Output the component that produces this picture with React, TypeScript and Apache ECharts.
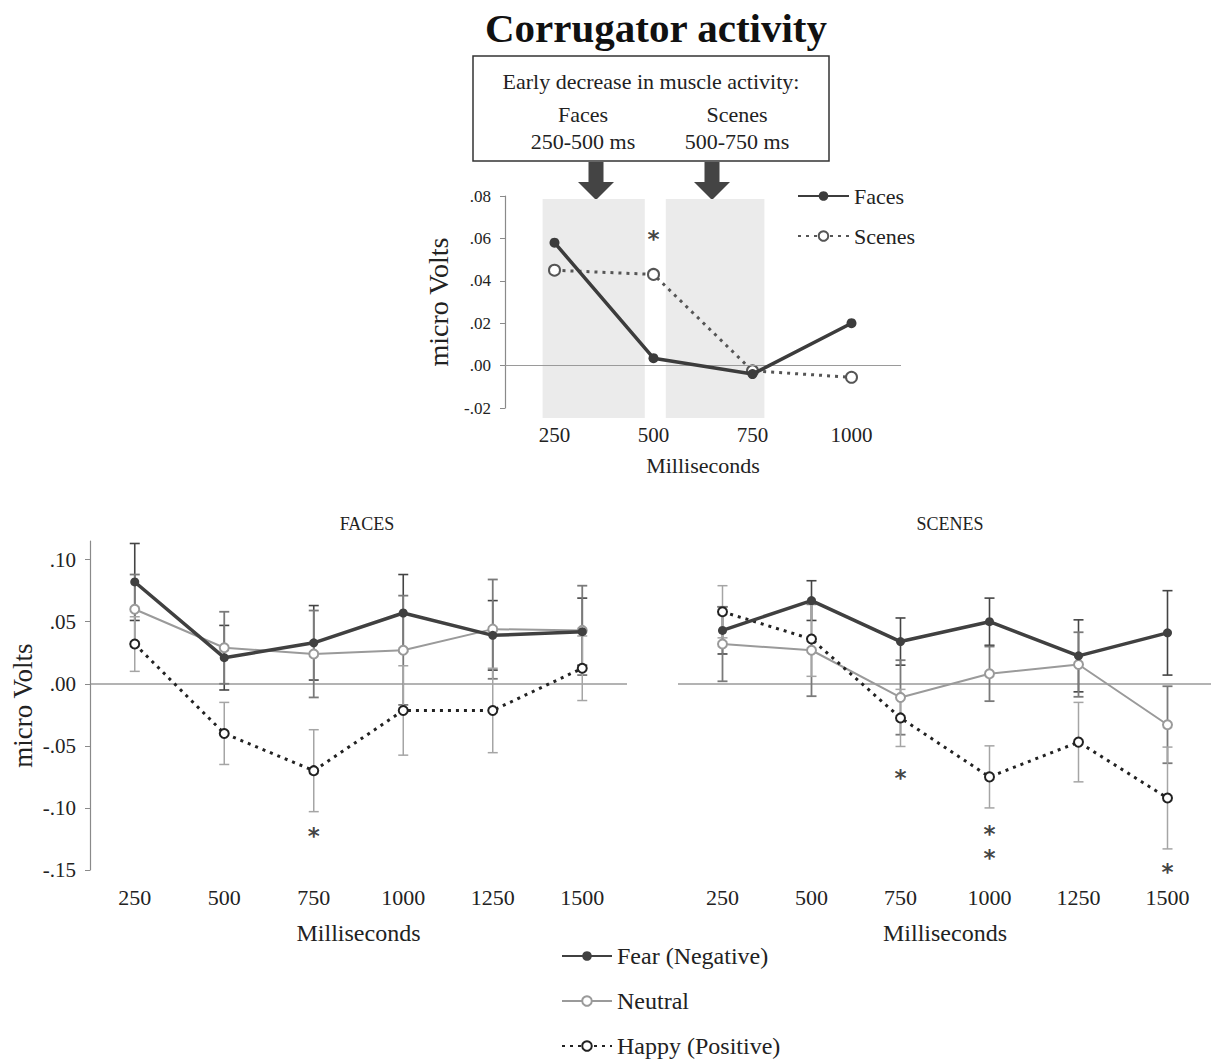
import React, { useEffect, useRef } from "react";
import * as echarts from "echarts";

const serif = '"Liberation Serif", "Times New Roman", serif';

// Top chart (overall corrugator activity)
const topTimes = [250, 500, 750, 1000];
const topTickLabels = [250, 500, 750, 1000];
const topFaces = [0.058, 0.0035, -0.004, 0.02];
const topScenes = [0.045, 0.043, -0.0025, -0.0055];
const shadeRanges = [
  [220, 478],
  [531, 780],
];
const shadeTop = 0.0786;
const shadeBottom = -0.0247;
const topStars = [[500, 0.0627, 1]];

// Bottom charts
const categories = ["250", "500", "750", "1000", "1250", "1500"];

const facesFear = [0.082, 0.021, 0.033, 0.057, 0.039, 0.042];
const facesFearErr = [0.031, 0.026, 0.03, 0.031, 0.028, 0.027];
const facesNeutral = [0.06, 0.029, 0.024, 0.027, 0.044, 0.043];
const facesNeutralErr = [0.028, 0.029, 0.035, 0.044, 0.04, 0.036];
const facesHappy = [0.032, -0.04, -0.07, -0.0215, -0.0215, 0.0125];
const facesHappyErr = [0.022, 0.025, 0.033, 0.036, 0.034, 0.026];

const scenesFear = [0.043, 0.067, 0.034, 0.05, 0.0225, 0.041];
const scenesFearErr = [0.019, 0.016, 0.019, 0.019, 0.029, 0.034];
const scenesNeutral = [0.032, 0.027, -0.011, 0.008, 0.0155, -0.033];
const scenesNeutralErr = [0.03, 0.037, 0.03, 0.022, 0.026, 0.031];
const scenesHappy = [0.058, 0.036, -0.0275, -0.075, -0.047, -0.092];
const scenesHappyErr = [0.021, 0.03, 0.023, 0.025, 0.032, 0.041];

// significance markers: [category, value, number of asterisks]
const facesStars = [["750", -0.1175, 1]];
const scenesStars = [
  ["750", -0.0712, 1],
  ["1000", -0.1259, 2],
  ["1500", -0.147, 1],
];

const fmtY = (v: number) => {
  const s = Math.abs(v).toFixed(2).replace(/^0/, "");
  return (v < -1e-9 ? "-" : "") + s;
};

function errSeries(
  means: number[],
  errs: number[],
  color: string,
  width: number,
  axis: number
) {
  return {
    type: "custom",
    name: "err",
    xAxisIndex: axis,
    yAxisIndex: axis,
    silent: true,
    z: 1,
    clip: false,
    data: means.map((m, i) => [i, m - errs[i], m + errs[i]]),
    encode: { x: 0, y: [1, 2] },
    renderItem: (params: any, api: any) => {
      const lo = api.coord([api.value(0), api.value(1)]);
      const hi = api.coord([api.value(0), api.value(2)]);
      const hw = 5;
      const st = { stroke: color, lineWidth: width };
      return {
        type: "group",
        children: [
          { type: "line", shape: { x1: lo[0], y1: lo[1], x2: hi[0], y2: hi[1] }, style: st },
          { type: "line", shape: { x1: lo[0] - hw, y1: lo[1], x2: lo[0] + hw, y2: lo[1] }, style: st },
          { type: "line", shape: { x1: hi[0] - hw, y1: hi[1], x2: hi[0] + hw, y2: hi[1] }, style: st },
        ],
      };
    },
  };
}

const FEAR = "Fear (Negative)";
const NEUTRAL = "Neutral";
const HAPPY = "Happy (Positive)";

function lineSeries(kind: string, data: number[], axis: number, withZero: boolean) {
  const base: any = {
    type: "line",
    xAxisIndex: axis,
    yAxisIndex: axis,
    data,
    silent: true,
  };
  if (kind === FEAR) {
    Object.assign(base, {
      name: FEAR,
      z: 5,
      color: "#404040",
      symbol: "circle",
      symbolSize: 9,
      lineStyle: { color: "#404040", width: 3.5 },
      itemStyle: { color: "#404040" },
    });
  } else if (kind === NEUTRAL) {
    Object.assign(base, {
      name: NEUTRAL,
      z: 4,
      color: "#9a9a9a",
      symbol: "emptyCircle",
      symbolSize: 9,
      lineStyle: { color: "#9a9a9a", width: 2 },
      itemStyle: { color: "#9a9a9a", borderColor: "#9a9a9a", borderWidth: 1.5 },
    });
  } else {
    Object.assign(base, {
      name: HAPPY,
      z: 4,
      color: "#222",
      symbol: "emptyCircle",
      symbolSize: 9,
      lineStyle: { color: "#222", width: 3, type: [3, 5] },
      itemStyle: { color: "#222", borderColor: "#333", borderWidth: 1.5 },
    });
  }
  if (withZero) {
    base.markLine = {
      silent: true,
      symbol: ["none", "none"],
      label: { show: false },
      lineStyle: { color: "#9a9a9a", width: 1.5, type: "solid" },
      data: [{ yAxis: 0 }],
      z: 0,
    };
  }
  return base;
}

function starSeries(data: any[], axis: number) {
  return {
    type: "scatter",
    name: "stars",
    xAxisIndex: axis,
    yAxisIndex: axis,
    silent: true,
    z: 6,
    symbolSize: 1,
    itemStyle: { color: "rgba(0,0,0,0)" },
    data,
    label: {
      show: true,
      position: "inside",
      formatter: (p: any) => Array(p.value[2]).fill("*").join("\n"),
      offset: [0, 6],
      fontSize: 23,
      lineHeight: 24,
      fontWeight: "bold",
      fontFamily: '"DejaVu Sans", "Liberation Sans", sans-serif',
      color: "#111",
    },
  };
}

function arrow(cx: number) {
  const y0 = 162,
    y1 = 182,
    y2 = 200,
    sw = 7.5,
    hw = 18;
  return {
    type: "polygon",
    shape: {
      points: [
        [cx - sw, y0],
        [cx + sw, y0],
        [cx + sw, y1],
        [cx + hw, y1],
        [cx, y2],
        [cx - hw, y1],
        [cx - sw, y1],
      ],
    },
    style: { fill: "#444" },
  };
}

const boxText = (text: string, x: number, y: number) => ({
  type: "text",
  x,
  y,
  style: { text, fontSize: 22, fontFamily: serif, fill: "#222", align: "center", verticalAlign: "middle" },
});

export default function App() {
  const ref = useRef<HTMLDivElement>(null);
  useEffect(() => {
    if (!ref.current) return;
    const chart = echarts.init(ref.current, null, { renderer: "svg" });
    const option: any = {
      animation: false,
      backgroundColor: "#fff",
      textStyle: { fontFamily: serif },
      title: [
        {
          text: "Corrugator activity",
          left: 651,
          top: 2,
          textAlign: "center",
          textStyle: { fontSize: 41, fontWeight: "bold", color: "#111", fontFamily: serif },
        },
        {
          text: "FACES",
          left: 362,
          top: 510,
          textAlign: "center",
          textStyle: { fontSize: 18, fontWeight: "normal", color: "#222", fontFamily: serif },
        },
        {
          text: "SCENES",
          left: 945,
          top: 510,
          textAlign: "center",
          textStyle: { fontSize: 18, fontWeight: "normal", color: "#222", fontFamily: serif },
        },
      ],
      legend: [
        {
          data: ["Faces", "Scenes"],
          orient: "vertical",
          left: 797,
          top: 185,
          padding: 0,
          itemWidth: 51,
          itemHeight: 12,
          itemGap: 18,
          selectedMode: false,
          textStyle: { fontSize: 22, color: "#222", fontFamily: serif },
        },
        {
          data: [FEAR, NEUTRAL, HAPPY],
          orient: "vertical",
          left: 561,
          top: 944,
          height: 130,
          padding: 0,
          itemWidth: 50,
          itemHeight: 12,
          itemGap: 21,
          selectedMode: false,
          textStyle: { fontSize: 24, color: "#222", fontFamily: serif },
        },
      ],
      grid: [
        { left: 505, top: 196, width: 396, height: 212, containLabel: false, outerBoundsMode: "none" },
        { left: 90, top: 541, width: 537, height: 329, containLabel: false, outerBoundsMode: "none" },
        { left: 678, top: 541, width: 534, height: 329, containLabel: false, outerBoundsMode: "none" },
      ],
      xAxis: [
        {
          type: "value",
          gridIndex: 0,
          min: 125,
          max: 1125,
          interval: 125,
          axisLine: { show: false },
          axisTick: { show: false },
          splitLine: { show: false },
          axisLabel: {
            margin: 16,
            fontSize: 21,
            color: "#222",
            fontFamily: serif,
            formatter: (v: number) => (topTickLabels.includes(Math.round(v)) ? String(Math.round(v)) : ""),
          },
          name: "Milliseconds",
          nameLocation: "middle",
          nameGap: 46,
          nameTextStyle: { fontSize: 22, color: "#222", fontFamily: serif },
        },
        ...[1, 2].map((g) => ({
          type: "category",
          gridIndex: g,
          data: categories,
          boundaryGap: true,
          axisLine: { show: false },
          axisTick: { show: false },
          splitLine: { show: false },
          axisLabel: { margin: 16, fontSize: 22, color: "#222", fontFamily: serif },
          name: "Milliseconds",
          nameLocation: "middle",
          nameGap: 51,
          nameTextStyle: { fontSize: 24, color: "#222", fontFamily: serif },
        })),
      ],
      yAxis: [
        {
          type: "value",
          gridIndex: 0,
          min: -0.02,
          max: 0.08,
          interval: 0.02,
          axisLine: { show: true, lineStyle: { color: "#8a8a8a", width: 1.2 } },
          axisTick: { show: true, length: 5, lineStyle: { color: "#8a8a8a" } },
          splitLine: { show: false },
          axisLabel: { fontSize: 17, color: "#222", fontFamily: serif, margin: 14, formatter: fmtY },
          name: "micro Volts",
          nameLocation: "middle",
          nameGap: 53,
          nameTextStyle: { fontSize: 28, color: "#222", fontFamily: serif },
        },
        {
          type: "value",
          gridIndex: 1,
          min: -0.15,
          max: 0.115,
          interval: 0.05,
          axisLine: { show: true, lineStyle: { color: "#8a8a8a", width: 1.2 } },
          axisTick: { show: true, length: 5, lineStyle: { color: "#8a8a8a" } },
          splitLine: { show: false },
          axisLabel: {
            fontSize: 21,
            color: "#222",
            fontFamily: serif,
            margin: 14,
            showMaxLabel: false,
            formatter: (v: number) => (Math.abs(v - 0.115) < 1e-6 ? "" : fmtY(v)),
          },
          name: "micro Volts",
          nameLocation: "middle",
          nameGap: 54,
          nameTextStyle: { fontSize: 27, color: "#222", fontFamily: serif },
        },
        {
          type: "value",
          gridIndex: 2,
          min: -0.15,
          max: 0.115,
          interval: 0.05,
          show: false,
          splitLine: { show: false },
        },
      ],
      series: [
        // top: shaded windows
        {
          type: "custom",
          name: "shade",
          xAxisIndex: 0,
          yAxisIndex: 0,
          silent: true,
          clip: false,
          z: 0,
          data: shadeRanges.map((r) => [r[0], r[1], shadeBottom, shadeTop]),
          encode: { x: [0, 1], y: [2, 3] },
          renderItem: (params: any, api: any) => {
            const p0 = api.coord([api.value(0), api.value(3)]);
            const p1 = api.coord([api.value(1), api.value(2)]);
            return {
              type: "rect",
              shape: { x: p0[0], y: p0[1], width: p1[0] - p0[0], height: p1[1] - p0[1] },
              style: { fill: "#ebebeb" },
            };
          },
        },
        {
          type: "line",
          name: "Faces",
          xAxisIndex: 0,
          yAxisIndex: 0,
          silent: true,
          z: 5,
          color: "#3c3c3c",
          symbol: "circle",
          symbolSize: 10,
          lineStyle: { color: "#3c3c3c", width: 3.5 },
          itemStyle: { color: "#3c3c3c" },
          data: topTimes.map((t, i) => [t, topFaces[i]]),
          markLine: {
            silent: true,
            symbol: ["none", "none"],
            label: { show: false },
            lineStyle: { color: "#9a9a9a", width: 1.2, type: "solid" },
            data: [{ yAxis: 0 }],
          },
        },
        {
          type: "line",
          name: "Scenes",
          xAxisIndex: 0,
          yAxisIndex: 0,
          silent: true,
          z: 4,
          color: "#555",
          symbol: "emptyCircle",
          symbolSize: 11,
          lineStyle: { color: "#555", width: 3, type: [3, 5] },
          itemStyle: { color: "#555", borderColor: "#777", borderWidth: 1.5 },
          data: topTimes.map((t, i) => [t, topScenes[i]]),
        },
        starSeries(topStars, 0),
        // FACES
        errSeries(facesFear, facesFearErr, "#444", 1.6, 1),
        errSeries(facesNeutral, facesNeutralErr, "#7a7a7a", 1.8, 1),
        errSeries(facesHappy, facesHappyErr, "#a5a5a5", 1.5, 1),
        lineSeries(NEUTRAL, facesNeutral, 1, true),
        lineSeries(HAPPY, facesHappy, 1, false),
        lineSeries(FEAR, facesFear, 1, false),
        starSeries(facesStars, 1),
        // SCENES
        errSeries(scenesFear, scenesFearErr, "#444", 1.6, 2),
        errSeries(scenesNeutral, scenesNeutralErr, "#7a7a7a", 1.8, 2),
        errSeries(scenesHappy, scenesHappyErr, "#a5a5a5", 1.5, 2),
        lineSeries(NEUTRAL, scenesNeutral, 2, true),
        lineSeries(HAPPY, scenesHappy, 2, false),
        lineSeries(FEAR, scenesFear, 2, false),
        starSeries(scenesStars, 2),
      ],
      graphic: [
        {
          type: "rect",
          shape: { x: 473, y: 56, width: 356, height: 105 },
          style: { fill: "#fff", stroke: "#333", lineWidth: 1.5 },
        },
        boxText("Early decrease in muscle activity:", 651, 81),
        boxText("Faces", 583, 114),
        boxText("250-500 ms", 583, 141),
        boxText("Scenes", 737, 114),
        boxText("500-750 ms", 737, 141),
        arrow(596),
        arrow(712),
      ],
    };
    chart.setOption(option);
    return () => chart.dispose();
  }, []);
  return (
    <div
      ref={ref}
      style={{ position: "absolute", left: 0, top: 0, width: 1211, height: 1060, background: "#fff" }}
    />
  );
}
